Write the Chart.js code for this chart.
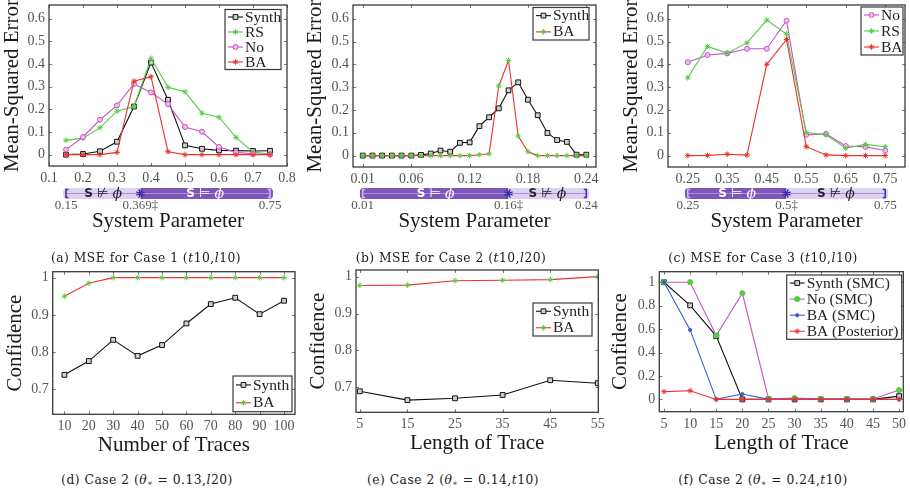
<!DOCTYPE html>
<html><head><meta charset="utf-8">
<script src="https://cdn.jsdelivr.net/npm/chart.js@4.4.0/dist/chart.umd.min.js"></script>
<style>
html,body{margin:0;padding:0;background:#fff;width:910px;height:493px;overflow:hidden;position:relative;}
canvas{position:absolute;}
.cap{position:absolute;width:340px;text-align:center;font-family:'DejaVu Serif',serif;font-size:12.3px;letter-spacing:0.5px;color:#1a1a1a;white-space:nowrap;line-height:16px;}
.cap sub{font-size:8px;vertical-align:-2px;line-height:0;}
</style></head><body>
<canvas id="ca" width="300" height="235" style="left:0px;top:0px"></canvas>
<canvas id="cb" width="310" height="235" style="left:300px;top:0px"></canvas>
<canvas id="cc" width="310" height="235" style="left:600px;top:0px"></canvas>
<canvas id="cd" width="300" height="196" style="left:0px;top:262px"></canvas>
<canvas id="ce" width="310" height="196" style="left:300px;top:262px"></canvas>
<canvas id="cf" width="310" height="196" style="left:600px;top:262px"></canvas>
<div class="cap" style="left:-24px;top:250px">(a) MSE for Case 1 (<i>t</i>10,<i>l</i>10)</div>
<div class="cap" style="left:281px;top:250px">(b) MSE for Case 2 (<i>t</i>10,<i>l</i>20)</div>
<div class="cap" style="left:593px;top:250px">(c) MSE for Case 3 (<i>t</i>10,<i>l</i>10)</div>
<div class="cap" style="left:-23px;top:472px">(d) Case 2 (<i>θ</i><sub>∗</sub> = 0.13,<i>l</i>20)</div>
<div class="cap" style="left:283px;top:472px">(e) Case 2 (<i>θ</i><sub>∗</sub> = 0.14,<i>t</i>10)</div>
<div class="cap" style="left:593px;top:472px">(f) Case 2 (<i>θ</i><sub>∗</sub> = 0.24,<i>t</i>10)</div>
<script>
// ---------------- DATA ----------------
// (a) MSE for Case 1
const xA = [0.15, 0.2, 0.25, 0.3, 0.35, 0.4, 0.45, 0.5, 0.55, 0.6, 0.65, 0.7, 0.75];
const aSynth = [0, 0.003, 0.015, 0.057, 0.212, 0.406, 0.242, 0.041, 0.026, 0.019, 0.018, 0.016, 0.017];
const aRS    = [0.063, 0.073, 0.119, 0.192, 0.212, 0.425, 0.297, 0.277, 0.183, 0.165, 0.076, 0.012, 0.003];
const aNo    = [0.022, 0.078, 0.154, 0.217, 0.312, 0.274, 0.223, 0.122, 0.101, 0.034, 0.010, 0.004, 0.001];
const aBA    = [0, 0, 0, 0.010, 0.324, 0.344, 0.013, 0, 0, 0, 0, 0, 0];
const ticksAx = [0.1, 0.2, 0.3, 0.4, 0.5, 0.6, 0.7, 0.8];
const barAvals = [0.15, 0.369, 0.75];
const barAlabels = ['0.15', '0.369‡', '0.75'];

// (b) MSE for Case 2
const xB = [0.01, 0.02, 0.03, 0.04, 0.05, 0.06, 0.07, 0.08, 0.09, 0.10, 0.11, 0.12,
            0.13, 0.14, 0.15, 0.16, 0.17, 0.18, 0.19, 0.20, 0.21, 0.22, 0.23, 0.24];
const bSynth = [0, 0, 0, 0, 0, 0, 0.003, 0.009, 0.022, 0.017, 0.056, 0.058,
                0.129, 0.168, 0.207, 0.286, 0.321, 0.245, 0.177, 0.099, 0.068, 0.060, 0.004, 0.004];
const bBA    = [0, 0, 0, 0, 0, 0, 0, 0, 0, 0, 0, 0,
                0.004, 0.008, 0.305, 0.417, 0.086, 0.017, 0, 0, 0, 0, 0, 0];
const ticksBx = [0.01, 0.06, 0.12, 0.18, 0.24];
const barBvals = [0.01, 0.16, 0.24];
const barBlabels = ['0.01', '0.16‡', '0.24'];

// (c) MSE for Case 3
const xC = [0.25, 0.3, 0.35, 0.4, 0.45, 0.5, 0.55, 0.6, 0.65, 0.7, 0.75];
const cNo = [0.409, 0.441, 0.448, 0.468, 0.468, 0.591, 0.091, 0.095, 0.042, 0.038, 0.022];
const cRS = [0.341, 0.478, 0.449, 0.494, 0.594, 0.533, 0.101, 0.091, 0.032, 0.049, 0.039];
const cBA = [0, 0.001, 0.006, 0.002, 0.400, 0.509, 0.039, 0.003, 0, 0, 0];
const ticksCx = [0.25, 0.35, 0.45, 0.55, 0.65, 0.75];
const barCvals = [0.25, 0.5, 0.75];
const barClabels = ['0.25', '0.5‡', '0.75'];

const ticksMSEy = [0, 0.1, 0.2, 0.3, 0.4, 0.5, 0.6];

// (d) Confidence vs Number of Traces
const xD = [10, 20, 30, 40, 50, 60, 70, 80, 90, 100];
const dSynth = [0.739, 0.776, 0.833, 0.790, 0.819, 0.877, 0.929, 0.946, 0.902, 0.938];
const dBA    = [0.950, 0.985, 1, 1, 1, 1, 1, 1, 1, 1];
const ticksDx = [10, 20, 30, 40, 50, 60, 70, 80, 90, 100];

// (e) Confidence vs Length of Trace
const xE = [5, 15, 25, 35, 45, 55];
const eSynth = [0.689, 0.665, 0.670, 0.679, 0.719, 0.711];
const eBA    = [0.976, 0.977, 0.989, 0.990, 0.992, 1.0];
const ticksEx = [5, 15, 25, 35, 45, 55];

const ticksConfY = [0.7, 0.8, 0.9, 1];

// (f) Confidence vs Length of Trace
const xF = [5, 10, 15, 20, 25, 30, 35, 40, 45, 50];
const fSynth  = [1, 0.803, 0.540, 0, 0, 0, 0, 0, 0, 0.028];
const fNo     = [1, 1, 0.545, 0.906, 0.006, 0.011, 0.005, 0.005, 0.004, 0.080];
const fBAsmc  = [1, 0.593, 0, 0.046, 0, 0, 0, 0, 0, 0];
const fBApost = [0.066, 0.074, 0, 0, 0, 0, 0, 0, 0, 0];
const ticksFx = [5, 10, 15, 20, 25, 30, 35, 40, 45, 50];
const ticksFy = [0, 0.2, 0.4, 0.6, 0.8, 1];

// ---------------- STYLES ----------------
const SERIF = "'Liberation Serif', 'Times New Roman', serif";
const C_BLACK = '#111111', C_GREEN = '#55cc44', C_MAG = '#c655c6', C_RED = '#e8342c', C_BLUE = '#3c5ad0';
const ST = {
  synth: {borderColor: C_BLACK, pointStyle: 'rect', pointRadius: 3.4, pointBackgroundColor: '#d0d0d0', pointBorderColor: C_BLACK},
  rs:    {borderColor: C_GREEN, pointStyle: 'star', pointRadius: 2.8, pointBackgroundColor: C_GREEN, pointBorderColor: C_GREEN},
  no:    {borderColor: C_MAG,   pointStyle: 'circle', pointRadius: 2.5, pointBackgroundColor: '#ecc0ec', pointBorderColor: C_MAG},
  ba:    {borderColor: C_RED,   pointStyle: 'star', pointRadius: 2.8, pointBackgroundColor: C_RED, pointBorderColor: C_RED},
  baG:   {borderColor: C_RED,   pointStyle: 'star', pointRadius: 2.8, pointBackgroundColor: C_GREEN, pointBorderColor: C_GREEN},
  noG:   {borderColor: C_MAG,   pointStyle: 'circle', pointRadius: 2.6, pointBackgroundColor: C_GREEN, pointBorderColor: C_GREEN},
  blue:  {borderColor: C_BLUE,  pointStyle: 'circle', pointRadius: 1.6, pointBackgroundColor: C_BLUE, pointBorderColor: C_BLUE}
};

function fmt(v) { return String(Math.round(v * 1000) / 1000); }

function drawMarker(ctx, style, x, y, r, fill, stroke) {
  ctx.save();
  ctx.lineWidth = 1; ctx.fillStyle = fill; ctx.strokeStyle = stroke;
  ctx.beginPath();
  if (style === 'rect') {
    const s = r * Math.SQRT1_2;
    ctx.rect(x - s, y - s, 2 * s, 2 * s); ctx.fill(); ctx.stroke();
  } else if (style === 'circle') {
    ctx.arc(x, y, r, 0, Math.PI * 2); ctx.fill(); ctx.stroke();
  } else {
    for (let k = 0; k < 4; k++) {
      const a = k * Math.PI / 4;
      ctx.moveTo(x + Math.cos(a) * r, y + Math.sin(a) * r);
      ctx.lineTo(x - Math.cos(a) * r, y - Math.sin(a) * r);
    }
    ctx.stroke();
  }
  ctx.restore();
}

function makeDatasets(xs, series) {
  const n = series.length;
  return series.map((s, i) => Object.assign({
    label: s.label,
    data: xs.map((x, j) => ({x: x, y: s.y[j]})),
    borderWidth: 1.1,
    pointBorderWidth: 1,
    tension: 0,
    order: n - i
  }, s.style));
}

function makeChart(cfg) {
  const cx = cfg.box[0], cy = cfg.box[1], cw = cfg.box[2], ch = cfg.box[3];
  const [L, T, R, B] = cfg.area;
  const yW = L - cx, xH = cy + ch - B;

  const framePlugin = {
    id: 'frame',
    afterDraw(chart) {
      const ctx = chart.ctx, a = chart.chartArea;
      const xs = chart.scales.x, ys = chart.scales.y;
      ctx.save();
      ctx.strokeStyle = '#777'; ctx.lineWidth = 1;
      ctx.beginPath();
      cfg.xt.forEach(v => {
        const p = Math.round(xs.getPixelForValue(v)) + 0.5;
        ctx.moveTo(p, a.bottom); ctx.lineTo(p, a.bottom - 3);
        ctx.moveTo(p, a.top); ctx.lineTo(p, a.top + 3);
      });
      cfg.yt.forEach(v => {
        const p = Math.round(ys.getPixelForValue(v)) + 0.5;
        ctx.moveTo(a.left, p); ctx.lineTo(a.left + 3, p);
        ctx.moveTo(a.right, p); ctx.lineTo(a.right - 3, p);
      });
      ctx.stroke();
      ctx.strokeStyle = '#3a3a3a'; ctx.lineWidth = 1.3;
      ctx.strokeRect(a.left, a.top, a.right - a.left, a.bottom - a.top);
      ctx.restore();

      // legend
      const lg = cfg.legend;
      const lx = lg[0] - cx, ly = lg[1] - cy, lw = lg[2], lh = lg[3];
      const dsets = chart.data.datasets;
      ctx.save();
      ctx.fillStyle = '#fff';
      ctx.fillRect(lx, ly, lw, lh);
      ctx.strokeStyle = '#3a3a3a'; ctx.lineWidth = 1.2;
      ctx.strokeRect(lx, ly, lw, lh);
      const rh = lh / dsets.length;
      dsets.forEach((d, i) => {
        const yy = ly + rh * (i + 0.5);
        ctx.strokeStyle = d.borderColor; ctx.lineWidth = 1.1;
        ctx.beginPath(); ctx.moveTo(lx + 3, yy); ctx.lineTo(lx + 18, yy); ctx.stroke();
        drawMarker(ctx, d.pointStyle, lx + 10.5, yy, d.pointRadius, d.pointBackgroundColor, d.pointBorderColor);
        ctx.fillStyle = '#222';
        ctx.font = '15.5px ' + SERIF;
        ctx.textBaseline = 'middle'; ctx.textAlign = 'left';
        ctx.fillText(d.label, lx + 20, yy + 0.5);
      });
      ctx.restore();

      // satisfaction bar
      if (cfg.bar) {
        const bv = cfg.bar.vals, bl = cfg.bar.labels;
        const x0 = xs.getPixelForValue(bv[0]), x1 = xs.getPixelForValue(bv[1]), x2 = xs.getPixelForValue(bv[2]);
        const top = 188 - cy, h = 11, mid = top + h / 2;
        const DARK = '#7d56b9', LIGHT = '#ddd3f1';
        const c1 = cfg.bar.darkFirst ? DARK : LIGHT, c2 = cfg.bar.darkFirst ? LIGHT : DARK;
        ctx.save();
        ctx.beginPath();
        ctx.roundRect(x0 - 3, top, x2 - x0 + 6, h, 4);
        ctx.clip();
        ctx.fillStyle = c1; ctx.fillRect(x0 - 3, top, x1 - x0 + 3, h);
        ctx.fillStyle = c2; ctx.fillRect(x1, top, x2 - x1 + 3, h);
        ctx.restore();
        ctx.save();
        // center line
        ctx.lineWidth = 1;
        ctx.strokeStyle = '#a993d8';
        ctx.beginPath(); ctx.moveTo(x0, mid); ctx.lineTo(x2, mid); ctx.stroke();
        // end brackets
        const bracket = (x, dir, col) => {
          ctx.strokeStyle = col; ctx.lineWidth = 1.6;
          ctx.beginPath();
          ctx.moveTo(x + dir * 2.5, top + 1.5); ctx.lineTo(x, top + 1.5); ctx.lineTo(x, top + h - 1.5); ctx.lineTo(x + dir * 2.5, top + h - 1.5);
          ctx.stroke();
        };
        bracket(x0, 1, cfg.bar.darkFirst ? '#c9b9ef' : '#4a2fa6');
        bracket(x2, -1, cfg.bar.darkFirst ? '#4a2fa6' : '#c9b9ef');
        // boundary asterisk
        ctx.strokeStyle = '#3b2b9e'; ctx.lineWidth = 1.3;
        ctx.beginPath();
        for (let k = 0; k < 4; k++) {
          const a = k * Math.PI / 4 + Math.PI / 8;
          ctx.moveTo(x1 + Math.cos(a) * 4.5, mid + Math.sin(a) * 4.5);
          ctx.lineTo(x1 - Math.cos(a) * 4.5, mid - Math.sin(a) * 4.5);
        }
        ctx.stroke();
        // segment texts
        const segText = (xa, xb, sym, col) => {
          const fS = "bold 12px 'DejaVu Sans', sans-serif";
          const fR = "13px 'DejaVu Sans', sans-serif";
          const fP = "italic 14px 'DejaVu Serif', serif";
          const parts = [['S', fS], [' ' + sym + ' ', fR], ['ϕ', fP]];
          let tw = 0;
          parts.forEach(p => { ctx.font = p[1]; tw += ctx.measureText(p[0]).width; });
          let x = (xa + xb) / 2 - tw / 2;
          ctx.fillStyle = col; ctx.textBaseline = 'middle'; ctx.textAlign = 'left';
          parts.forEach(p => { ctx.font = p[1]; ctx.fillText(p[0], x, mid + 0.5); x += ctx.measureText(p[0]).width; });
        };
        if (cfg.bar.darkFirst) {
          segText(x0, x1, '⊨', '#ffffff');
          segText(x1, x2, '⊭', '#222222');
        } else {
          segText(x0, x1, '⊭', '#222222');
          segText(x1, x2, '⊨', '#ffffff');
        }
        // labels
        ctx.fillStyle = '#555'; ctx.font = '13px ' + SERIF;
        ctx.textAlign = 'center'; ctx.textBaseline = 'middle';
        [x0, x1, x2].forEach((x, i) => ctx.fillText(bl[i], x, 205.5 - cy));
        ctx.restore();
      }
    }
  };

  const tickFont = {family: SERIF, size: 14};
  const titleFont = {family: SERIF, size: 21};
  return new Chart(document.getElementById(cfg.id), {
    type: 'line',
    data: {datasets: makeDatasets(cfg.xs, cfg.series)},
    options: {
      responsive: false, animation: false, devicePixelRatio: 1,
      layout: {padding: {left: 0, top: T - cy, right: cx + cw - R, bottom: 0}},
      plugins: {legend: {display: false}, tooltip: {enabled: false}},
      scales: {
        x: {
          type: 'linear', min: cfg.xr[0], max: cfg.xr[1],
          afterBuildTicks: s => { s.ticks = cfg.xt.map(v => ({value: v})); },
          afterFit: s => { s.height = xH; s.paddingLeft = 0; s.paddingRight = 0; },
          grid: {display: false, drawTicks: false}, border: {display: false},
          ticks: {padding: 4, color: '#555', font: tickFont, callback: fmt, maxRotation: 0, autoSkip: false},
          title: {display: true, text: cfg.xTitle, color: '#1a1a1a', font: titleFont,
                  padding: {top: 0, bottom: cy + ch - cfg.xTitleCY - 12.6}}
        },
        y: {
          type: 'linear', min: cfg.yr[0], max: cfg.yr[1],
          afterBuildTicks: s => { s.ticks = cfg.yt.map(v => ({value: v})); },
          afterFit: s => { s.width = yW; s.paddingTop = 0; s.paddingBottom = 0; },
          grid: {display: false, drawTicks: false}, border: {display: false},
          ticks: {padding: 4, color: '#555', font: tickFont, callback: fmt, autoSkip: false},
          title: {display: true, text: cfg.yTitle, color: '#1a1a1a', font: titleFont,
                  padding: {top: Math.max(0, cfg.yTitleCX - cx - 12.6), bottom: 0}}
        }
      }
    },
    plugins: [framePlugin]
  });
}

// ---------------- CHARTS ----------------
makeChart({
  id: 'ca', box: [0, 0, 300, 235], area: [49, 5, 287, 166],
  xr: [0.1, 0.8], yr: [-0.05, 0.66], xt: ticksAx, yt: ticksMSEy,
  xTitle: 'System Parameter', yTitle: 'Mean-Squared Error', xTitleCY: 221, yTitleCX: 12,
  xs: xA,
  series: [{label: 'Synth', y: aSynth, style: ST.synth}, {label: 'RS', y: aRS, style: ST.rs},
           {label: 'No', y: aNo, style: ST.no}, {label: 'BA', y: aBA, style: ST.ba}],
  legend: [225, 9.5, 56, 60],
  bar: {vals: barAvals, labels: barAlabels, darkFirst: false}
});
makeChart({
  id: 'cb', box: [300, 0, 310, 235], area: [353, 5, 596, 167],
  xr: [0.0, 0.25], yr: [-0.05, 0.66], xt: ticksBx, yt: ticksMSEy,
  xTitle: 'System Parameter', yTitle: 'Mean-Squared Error', xTitleCY: 221, yTitleCX: 315,
  xs: xB,
  series: [{label: 'Synth', y: bSynth, style: ST.synth}, {label: 'BA', y: bBA, style: ST.baG}],
  legend: [533, 7.5, 56, 32.5],
  bar: {vals: barBvals, labels: barBlabels, darkFirst: true}
});
makeChart({
  id: 'cc', box: [600, 0, 310, 235], area: [668, 5, 906.5, 167],
  xr: [0.2, 0.8], yr: [-0.05, 0.66], xt: ticksCx, yt: ticksMSEy,
  xTitle: 'System Parameter', yTitle: 'Mean-Squared Error', xTitleCY: 221, yTitleCX: 631.5,
  xs: xC,
  series: [{label: 'No', y: cNo, style: ST.no}, {label: 'RS', y: cRS, style: ST.rs}, {label: 'BA', y: cBA, style: ST.ba}],
  legend: [861, 7, 42, 48],
  bar: {vals: barCvals, labels: barClabels, darkFirst: true}
});
makeChart({
  id: 'cd', box: [0, 262, 300, 196], area: [52.7, 271.7, 299, 414.3],
  xr: [5.2, 104.5], yr: [0.633, 1.016], xt: ticksDx, yt: ticksConfY,
  xTitle: 'Number of Traces', yTitle: 'Confidence', xTitleCY: 445, yTitleCX: 15,
  xs: xD,
  series: [{label: 'Synth', y: dSynth, style: ST.synth}, {label: 'BA', y: dBA, style: ST.baG}],
  legend: [233, 376, 59, 35.7]
});
makeChart({
  id: 'ce', box: [300, 262, 310, 196], area: [356, 270, 598.3, 412.3],
  xr: [4.2, 55.1], yr: [0.632, 1.018], xt: ticksEx, yt: ticksConfY,
  xTitle: 'Length of Trace', yTitle: 'Confidence', xTitleCY: 443, yTitleCX: 318,
  xs: xE,
  series: [{label: 'Synth', y: eSynth, style: ST.synth}, {label: 'BA', y: eBA, style: ST.baG}],
  legend: [533, 303, 59, 33]
});
makeChart({
  id: 'cf', box: [600, 262, 310, 196], area: [659.3, 271.7, 903.3, 411.7],
  xr: [4.1, 50.8], yr: [-0.105, 1.09], xt: ticksFx, yt: ticksFy,
  xTitle: 'Length of Trace', yTitle: 'Confidence', xTitleCY: 443, yTitleCX: 620.7,
  xs: xF,
  series: [{label: 'Synth (SMC)', y: fSynth, style: ST.synth}, {label: 'No (SMC)', y: fNo, style: ST.noG},
           {label: 'BA (SMC)', y: fBAsmc, style: ST.blue}, {label: 'BA (Posterior)', y: fBApost, style: ST.ba}],
  legend: [786.7, 275, 115, 64.3]
});
</script>
</body></html>
